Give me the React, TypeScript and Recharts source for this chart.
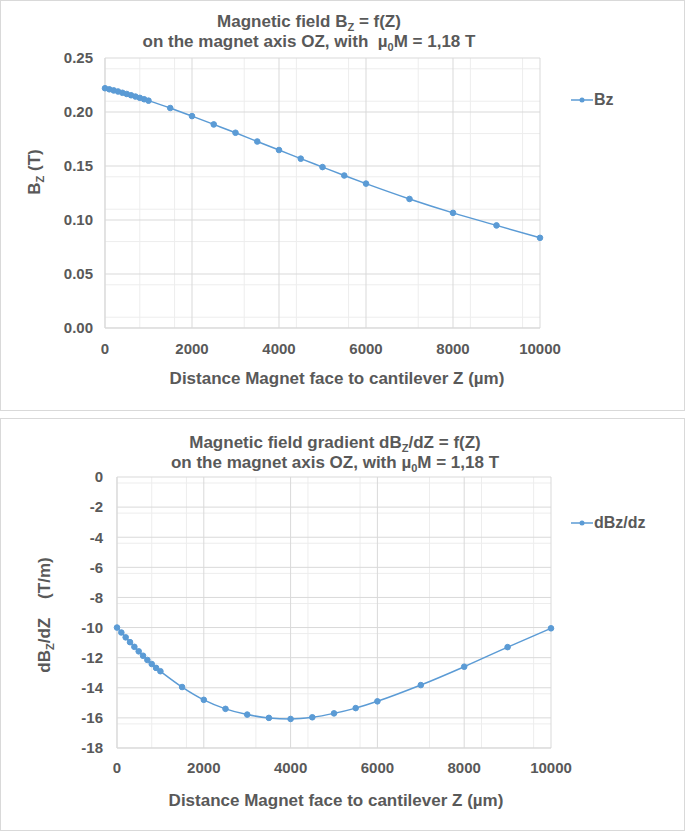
import { LineChart, Line, XAxis, YAxis, CartesianGrid } from 'recharts';

// distance magnet face -> cantilever (µm)
const zValues = [
  0, 100, 200, 300, 400, 500, 600, 700, 800, 900, 1000,
  1500, 2000, 2500, 3000, 3500, 4000, 4500, 5000, 5500, 6000,
  7000, 8000, 9000, 10000,
];

// Bz (T)
const bzValues = [
  0.222, 0.221, 0.22, 0.219, 0.2178, 0.2167, 0.2155, 0.2143, 0.2131, 0.2118, 0.2105,
  0.2037, 0.1962, 0.1885, 0.1808, 0.1727, 0.1648, 0.1568, 0.149, 0.1412, 0.1337,
  0.1195, 0.1066, 0.095, 0.0835,
];

// dBz/dz (T/m)
const gradValues = [
  -10.0, -10.33, -10.65, -10.97, -11.28, -11.58, -11.87, -12.15, -12.42, -12.68, -12.9,
  -13.95, -14.8, -15.4, -15.78, -16.0, -16.07, -15.96, -15.7, -15.35, -14.9,
  -13.82, -12.6, -11.3, -10.05,
];

const xTicks = [0, 2000, 4000, 6000, 8000, 10000];
const xMinor = [400, 800, 1200, 1600, 2400, 2800, 3200, 3600, 4400, 4800, 5200, 5600, 6400, 6800, 7200, 7600, 8400, 8800, 9200, 9600];
const bzTicks = [0, 0.05, 0.1, 0.15, 0.2, 0.25];
const bzMinor = [0.01, 0.02, 0.03, 0.04, 0.06, 0.07, 0.08, 0.09, 0.11, 0.12, 0.13, 0.14, 0.16, 0.17, 0.18, 0.19, 0.21, 0.22, 0.23, 0.24];
const gradTicks = [-18, -16, -14, -12, -10, -8, -6, -4, -2, 0];
const gradMinor: number[] = [];
for (let m = -18; m < 0; m += 2) {
  [0.4, 0.8, 1.2, 1.6].forEach(s => gradMinor.push(+(m + s).toFixed(1)));
}

const bzData = zValues.map((z, i) => ({ z, Bz: bzValues[i] }));
const gradData = zValues.map((z, i) => ({ z, 'dBz/dz': gradValues[i] }));

const blue = '#5b9bd5';
const textColor = '#595959';
const font = '"Liberation Sans", Arial, sans-serif';
const tickStyle = { fill: textColor, fontSize: 15, fontWeight: 'bold' as const, fontFamily: font };

function LegendItem({ label, left, top }: { label: string; left: number; top: number }) {
  return (
    <div style={{ position: 'absolute', left, top, display: 'flex', alignItems: 'center', fontFamily: font, fontSize: 16, fontWeight: 'bold', color: textColor }}>
      <svg width={22} height={10}>
        <line x1={0} y1={5} x2={22} y2={5} stroke={blue} strokeWidth={1.5} />
        <circle cx={11} cy={5} r={2.5} fill={blue} />
      </svg>
      <span style={{ marginLeft: 1 }}>{label}</span>
    </div>
  );
}

const titleStyle = {
  position: 'absolute' as const,
  textAlign: 'center' as const,
  fontFamily: font,
  fontSize: 17,
  fontWeight: 'bold' as const,
  color: textColor,
  lineHeight: '20px',
  whiteSpace: 'nowrap' as const,
};

const rotated = (cx: number, cy: number) => ({
  ...titleStyle,
  left: cx,
  top: cy,
  transform: 'translate(-50%, -50%) rotate(-90deg)',
});

const subStyle = { fontSize: 11, position: 'relative' as const, top: 4, lineHeight: 0 };

export default function App() {
  return (
    <div style={{ position: 'absolute', left: 0, top: 0, width: 685, height: 831, background: '#fff' }}>
      {/* top panel */}
      <div style={{ position: 'absolute', left: 0, top: 0, width: 685, height: 411, border: '1px solid #d9d9d9', boxSizing: 'border-box' }} />
      <div style={{ position: 'absolute', left: 0, top: 0 }}>
        <LineChart width={685} height={411} data={bzData} margin={{ top: 58, right: 145, left: 45, bottom: 53 }}>
          <CartesianGrid stroke="#ededed" horizontalValues={bzMinor} verticalValues={xMinor} />
          <CartesianGrid stroke="#d9d9d9" horizontalValues={bzTicks} verticalValues={xTicks} />
          <XAxis dataKey="z" type="number" domain={[0, 10000]} ticks={xTicks} tickSize={0} tickMargin={15}
            axisLine={{ stroke: '#d9d9d9' }} tick={tickStyle} height={30} />
          <YAxis type="number" domain={[0, 0.25]} ticks={bzTicks} tickFormatter={v => v.toFixed(2)} tickSize={0} tickMargin={12}
            axisLine={{ stroke: '#d9d9d9' }} tick={tickStyle} width={60} />
          <Line type="monotone" dataKey="Bz" stroke={blue} strokeWidth={1.5} isAnimationActive={false}
            dot={{ r: 2.8, fill: blue, stroke: blue, strokeWidth: 1 }} />
        </LineChart>
      </div>
      <div style={{ ...titleStyle, left: 0, width: 618, top: 12 }}>
        Magnetic field B<span style={subStyle}>Z</span> = f(Z)<br />
        on the magnet axis OZ, with&nbsp; µ<span style={subStyle}>0</span>M = 1,18 T
      </div>
      <div style={rotated(35, 172)}>B<span style={subStyle}>Z</span> (T)</div>
      <div style={{ ...titleStyle, left: 0, width: 674, top: 369 }}>Distance Magnet face to cantilever Z (µm)</div>
      <LegendItem label="Bz" left={571} top={91} />

      {/* bottom panel */}
      <div style={{ position: 'absolute', left: 0, top: 418, width: 685, height: 413, border: '1px solid #d9d9d9', boxSizing: 'border-box' }} />
      <div style={{ position: 'absolute', left: 0, top: 418 }}>
        <LineChart width={685} height={413} data={gradData} margin={{ top: 59, right: 134, left: 57, bottom: 53 }}>
          <CartesianGrid stroke="#ededed" horizontalValues={gradMinor} verticalValues={xMinor} />
          <CartesianGrid stroke="#d9d9d9" horizontalValues={gradTicks} verticalValues={xTicks} />
          <XAxis dataKey="z" type="number" domain={[0, 10000]} ticks={xTicks} tickSize={0} tickMargin={14}
            axisLine={{ stroke: '#d9d9d9' }} tick={tickStyle} height={30} />
          <YAxis type="number" domain={[-18, 0]} ticks={gradTicks} tickSize={0} tickMargin={14}
            axisLine={{ stroke: '#d9d9d9' }} tick={tickStyle} width={60} />
          <Line type="monotone" dataKey="dBz/dz" stroke={blue} strokeWidth={1.5} isAnimationActive={false}
            dot={{ r: 2.8, fill: blue, stroke: blue, strokeWidth: 1 }} />
        </LineChart>
      </div>
      <div style={{ ...titleStyle, left: 0, width: 670, top: 433 }}>
        Magnetic field gradient dB<span style={subStyle}>Z</span>/dZ = f(Z)<br />
        on the magnet axis OZ, with µ<span style={subStyle}>0</span>M = 1,18 T
      </div>
      <div style={rotated(45, 615)}>dB<span style={subStyle}>Z</span>/dZ&nbsp;&nbsp;&nbsp; (T/m)</div>
      <div style={{ ...titleStyle, left: 0, width: 672, top: 791 }}>Distance Magnet face to cantilever Z (µm)</div>
      <LegendItem label="dBz/dz" left={571} top={514} />
    </div>
  );
}
